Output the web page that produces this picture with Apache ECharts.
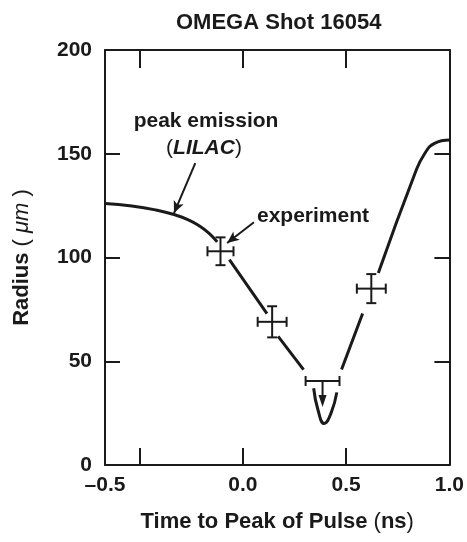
<!DOCTYPE html>
<html>
<head>
<meta charset="utf-8">
<script src="https://cdn.jsdelivr.net/npm/echarts@6/dist/echarts.min.js"></script>
<style>
html, body { margin: 0; padding: 0; background: #fff; }
#main { width: 467px; height: 542px; }
</style>
</head>
<body>
<div id="main"></div>
<script>
// LILAC peak-emission radius vs time, null = gap where the curve meets an error bar
var curveX = [-0.667, -0.537, -0.421, -0.333, -0.261, -0.212, -0.163, -0.124, null,
              -0.065, 0.117, null,
              0.171, 0.294, null,
              0.343, 0.364, 0.394, 0.427, 0.455, null,
              0.478, 0.58, null,
              0.656, 0.835, 0.88, 0.928, 1.0];
var curveY = [126, 124.8, 122.9, 120.7, 118.0, 115.3, 111.6, 107.5, null,
              99, 73, null,
              62, 46, null,
              37, 26.5, 20, 25, 35, null,
              46, 73, null,
              92.5, 141, 150, 155, 156.6];

// experiment points
var expX = [-0.108, 0.142, 0.386, 0.622];
var expY = [103, 69, 40.5, 85];
var expXErr = [0.063, 0.07, 0.082, 0.07];
var expYErr = [6.7, 7.5, 0, 7];
var expArrowTo = [0, 0, 28, 0];   // upper limit arrow end (0 = none)

// axes
var xTicks = [-0.5, 0, 0.5, 1.0];
var xLabelPos = [-0.667, 0, 0.5, 1.0];
var xLabels = ['\u20130.5', '0.0', '0.5', '1.0'];

// annotation arrows [from, to]
var arrowFrom = [[-0.23, 145.5], [0.054, 117]];
var arrowTo = [[-0.333, 121.4], [-0.076, 107]];

var ink = '#1a1a1a';
var font = '"Liberation Sans", Arial, Helvetica, sans-serif';

var myChart = echarts.init(document.getElementById('main'));

var lineData = [];
for (var i = 0; i < curveX.length; i++) {
    lineData.push(curveY[i] == null ? '-' : [curveX[i], curveY[i]]);
}
var errData = expX.map(function (x, i) {
    return [x, expY[i], expXErr[i], expYErr[i], expArrowTo[i]];
});
var arrowLines = arrowFrom.map(function (p, i) {
    return [{ coord: p }, { coord: arrowTo[i] }];
});

function renderErr(params, api) {
    var x = api.value(0), y = api.value(1), dx = api.value(2), dy = api.value(3), to = api.value(4);
    var c = api.coord([x, y]);
    var l = api.coord([x - dx, y]);
    var r = api.coord([x + dx, y]);
    var cap = 5;
    var st = { stroke: ink, lineWidth: 2 };
    var kids = [
        { type: 'line', shape: { x1: l[0], y1: c[1], x2: r[0], y2: c[1] }, style: st },
        { type: 'line', shape: { x1: l[0], y1: c[1] - cap, x2: l[0], y2: c[1] + cap }, style: st },
        { type: 'line', shape: { x1: r[0], y1: c[1] - cap, x2: r[0], y2: c[1] + cap }, style: st }
    ];
    if (dy > 0) {
        var t = api.coord([x, y + dy]);
        var b = api.coord([x, y - dy]);
        kids.push({ type: 'line', shape: { x1: c[0], y1: t[1], x2: c[0], y2: b[1] }, style: st });
        kids.push({ type: 'line', shape: { x1: c[0] - cap, y1: t[1], x2: c[0] + cap, y2: t[1] }, style: st });
        kids.push({ type: 'line', shape: { x1: c[0] - cap, y1: b[1], x2: c[0] + cap, y2: b[1] }, style: st });
    }
    if (to > 0) {
        var e = api.coord([x, to]);
        kids.push({ type: 'line', shape: { x1: c[0], y1: c[1], x2: c[0], y2: e[1] - 8 }, style: st });
        kids.push({ type: 'polygon', shape: { points: [[c[0] - 4, e[1] - 12], [c[0] + 4, e[1] - 12], [c[0], e[1]]] },
            style: { fill: ink } });
    }
    return { type: 'group', children: kids };
}

function nearestLabel(v) {
    var best = 0;
    for (var i = 1; i < xLabelPos.length; i++) {
        if (Math.abs(xLabelPos[i] - v) < Math.abs(xLabelPos[best] - v)) best = i;
    }
    return xLabels[best];
}

var axisLineStyle = { show: true, onZero: false, lineStyle: { color: ink, width: 2 } };
var tickStyle = { color: ink, width: 2 };

option = {
    backgroundColor: '#fff',
    animation: false,
    title: {
        text: 'OMEGA Shot 16054',
        left: 171,
        top: 7,
        textStyle: { fontFamily: font, fontSize: 22, fontWeight: 'bold', color: ink }
    },
    grid: { left: 105, right: 17, top: 50, bottom: 77 },
    xAxis: [{
        type: 'value',
        min: -0.667,
        max: 1.0,
        position: 'bottom',
        axisLine: axisLineStyle,
        axisTick: { inside: true, length: 17, customValues: xTicks, lineStyle: tickStyle },
        axisLabel: {
            customValues: xLabelPos,
            formatter: nearestLabel,
            margin: 10,
            color: ink,
            fontFamily: font,
            fontSize: 21,
            fontWeight: 'bold'
        },
        splitLine: { show: false },
        name: '{b|Time to Peak of Pulse }{p|(}{b|ns}{p|)}',
        nameLocation: 'middle',
        nameGap: 46,
        nameTextStyle: {
            rich: {
                b: { fontFamily: font, fontSize: 22, fontWeight: 'bold', color: ink },
                p: { fontFamily: font, fontSize: 22, color: ink }
            }
        }
    }, {
        type: 'value',
        min: -0.667,
        max: 1.0,
        position: 'top',
        axisLine: axisLineStyle,
        axisTick: { inside: true, length: 18, customValues: xTicks, lineStyle: tickStyle },
        axisLabel: { show: false },
        splitLine: { show: false }
    }],
    yAxis: [{
        type: 'value',
        min: 0,
        max: 200,
        interval: 50,
        position: 'left',
        axisLine: axisLineStyle,
        axisTick: { inside: true, length: 15, lineStyle: tickStyle },
        axisLabel: { margin: 13, color: ink, fontFamily: font, fontSize: 21, fontWeight: 'bold' },
        splitLine: { show: false },
        name: '{b|Radius }{p|( }{i|\u03bcm}{p| )}',
        nameLocation: 'middle',
        nameGap: 72,
        nameTextStyle: {
            rich: {
                b: { fontFamily: font, fontSize: 22, fontWeight: 'bold', color: ink },
                p: { fontFamily: font, fontSize: 22, color: ink },
                i: { fontFamily: font, fontSize: 22, fontStyle: 'italic', color: ink }
            }
        }
    }, {
        type: 'value',
        min: 0,
        max: 200,
        interval: 50,
        position: 'right',
        axisLine: axisLineStyle,
        axisTick: { inside: true, length: 15, lineStyle: tickStyle },
        axisLabel: { show: false },
        splitLine: { show: false }
    }],
    series: [{
        name: 'LILAC',
        type: 'line',
        data: lineData,
        smooth: 0.5,
        connectNulls: false,
        showSymbol: false,
        symbol: 'none',
        lineStyle: { color: ink, width: 3 },
        markLine: {
            silent: true,
            symbol: ['none', 'arrow'],
            symbolSize: [8, 12],
            label: { show: false },
            lineStyle: { color: ink, width: 2, type: 'solid' },
            data: arrowLines
        }
    }, {
        name: 'experiment',
        type: 'custom',
        renderItem: renderErr,
        data: errData,
        z: 3
    }],
    graphic: [{
        type: 'text',
        x: 206, y: 121,
        style: {
            text: 'peak emission',
            align: 'center', verticalAlign: 'middle',
            font: 'bold 21px ' + font, fill: ink
        }
    }, {
        type: 'text',
        x: 204, y: 148,
        style: {
            text: '{p|(}{i|LILAC}{p|)}',
            align: 'center', verticalAlign: 'middle',
            rich: {
                p: { fontFamily: font, fontSize: 21, fill: ink },
                i: { fontFamily: font, fontSize: 21, fontWeight: 'bold', fontStyle: 'italic', fill: ink }
            }
        }
    }, {
        type: 'text',
        x: 257, y: 216,
        style: {
            text: 'experiment',
            align: 'left', verticalAlign: 'middle',
            font: 'bold 21px ' + font, fill: ink
        }
    }]
};

myChart.setOption(option);
</script>
</body>
</html>
